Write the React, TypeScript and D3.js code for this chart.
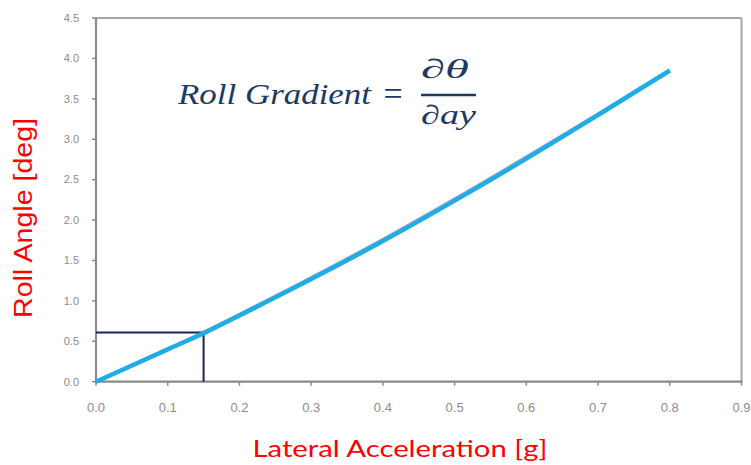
import React from "react";
import * as d3 from "d3";

const accel = [0, 0.1, 0.15, 0.2, 0.3, 0.4, 0.5, 0.6, 0.7, 0.8];
const rollAngle = [0, 0.4, 0.6, 0.82, 1.27, 1.74, 2.24, 2.76, 3.3, 3.85];
const rollAngleUnder = [0, 0.4, 0.61, 0.83, 1.285, 1.76, 2.26, 2.78, 3.31, 3.85];
const xTicks = [0, 0.1, 0.2, 0.3, 0.4, 0.5, 0.6, 0.7, 0.8, 0.9];
const yTicks = [0, 0.5, 1, 1.5, 2, 2.5, 3, 3.5, 4, 4.5];
const markerX = [0.15];
const markerY = [0.61];

const W = 751;
const H = 465;
const L = 96, R = 741.5, T = 18, B = 381.7;

export default function App() {
  const x = d3.scaleLinear().domain([0, 0.9]).range([L, R]);
  const y = d3.scaleLinear().domain([0, 4.5]).range([B, T]);
  const line = d3
    .line<number>()
    .x((_, i) => x(accel[i]))
    .y((d) => y(d))
    .curve(d3.curveMonotoneX);
  const fmt = d3.format(".1f");
  const mx = markerX[0];
  const my = markerY[0];
  const navy = "#203864";
  const axisGray = "#8a8a8a";
  const labelGray = "#8c8c8c";

  return (
    <svg
      width={W}
      height={H}
      style={{ position: "absolute", left: 0, top: 0, background: "#fff" }}
      fontFamily="'Liberation Sans', Arial, sans-serif"
    >
      <rect x={0} y={0} width={W} height={H} fill="#fff" />
      {/* frame */}
      <line x1={L} x2={R} y1={T} y2={T} stroke="#a6a6a6" strokeWidth={2} />
      <line x1={R} x2={R} y1={T} y2={B} stroke="#a6a6a6" strokeWidth={2} />
      <line x1={L} x2={L} y1={T} y2={B + 1} stroke={axisGray} strokeWidth={2.2} />
      <line x1={L - 1} x2={R + 1} y1={B} y2={B} stroke={axisGray} strokeWidth={2.2} />
      {/* y ticks */}
      {yTicks.map((t) => (
        <g key={"y" + t}>
          <line x1={L - 4} x2={L} y1={y(t)} y2={y(t)} stroke={axisGray} strokeWidth={1.5} />
          <text
            x={79}
            y={y(t)}
            dy="0.35em"
            textAnchor="end"
            fontSize={11}
            fill={labelGray}
          >
            {fmt(t)}
          </text>
        </g>
      ))}
      {/* x ticks */}
      {xTicks.map((t) => (
        <g key={"x" + t}>
          <line x1={x(t)} x2={x(t)} y1={B} y2={B + 4} stroke={axisGray} strokeWidth={1.5} />
          <text
            x={x(t)}
            y={407}
            dy="0.35em"
            textAnchor="middle"
            fontSize={13}
            fill={labelGray}
          >
            {fmt(t)}
          </text>
        </g>
      ))}
      {/* marker box */}
      <line x1={x(0)} x2={x(mx)} y1={y(my)} y2={y(my)} stroke="#1b1f5c" strokeWidth={2} />
      <line x1={x(mx)} x2={x(mx)} y1={y(my)} y2={y(0)} stroke="#1b1f5c" strokeWidth={2} />
      {/* curves */}
      <path d={line(rollAngleUnder) || ""} fill="none" stroke="#5a3d8c" strokeWidth={3.5} strokeOpacity={0.45} />
      <path d={line(rollAngle) || ""} fill="none" stroke="#1fade6" strokeWidth={4.5} strokeLinecap="butt" />
      {/* formula */}
      <g fill={navy} fontFamily="'Liberation Serif', 'DejaVu Serif', serif" fontStyle="italic">
        <text x={178} y={104} fontSize={29} textLength={193} lengthAdjust="spacingAndGlyphs">
          Roll Gradient
        </text>
        <text x={393} y={105} fontSize={34} fontStyle="normal" textAnchor="middle">
          =
        </text>
        <text x={421} y={78} fontSize={27} textLength={48} lengthAdjust="spacingAndGlyphs">
          ∂θ
        </text>
        <line x1={421} x2={476} y1={95} y2={95} stroke={navy} strokeWidth={2.5} />
        <text x={421} y={124} fontSize={27} textLength={55} lengthAdjust="spacingAndGlyphs">
          ∂ay
        </text>
      </g>
      {/* axis titles */}
      <text
        transform="translate(32,218) rotate(-90)"
        textAnchor="middle"
        fontSize={26}
        fill="#ff0000"
        textLength={200}
        lengthAdjust="spacingAndGlyphs"
      >
        Roll Angle [deg]
      </text>
      <text
        x={400}
        y={457}
        textAnchor="middle"
        fontSize={24}
        fill="#ff0000"
        fontFamily="Lato, 'Open Sans', sans-serif"
        textLength={295}
        lengthAdjust="spacingAndGlyphs"
      >
        Lateral Acceleration [g]
      </text>
    </svg>
  );
}
